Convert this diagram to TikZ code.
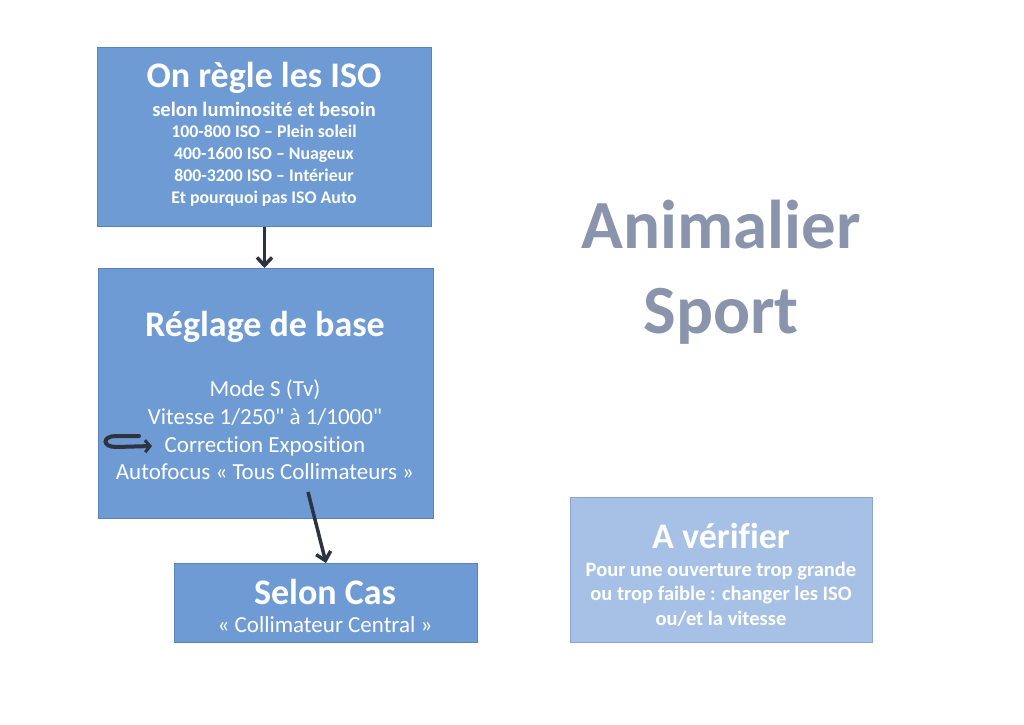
\documentclass[tikz,border=0pt]{standalone}
\usepackage{fontspec}
\setmainfont{Carlito}[Ligatures={TeXOff,NoCommon}]
\usetikzlibrary{arrows.meta}
\definecolor{boxblue}{HTML}{6F9BD4}
\definecolor{boxedge}{HTML}{5A82BC}
\definecolor{lightblue}{HTML}{A6C1E5}
\definecolor{lightedge}{HTML}{8BA6CC}
\definecolor{arrowcol}{HTML}{2E3340}
\definecolor{titlegray}{HTML}{8A95AD}
\tikzset{
  bluebox/.style={draw=boxedge, line width=1pt, fill=boxblue, inner sep=0pt, anchor=north west},
  lightbox/.style={draw=lightedge, line width=1pt, fill=lightblue, inner sep=0pt, anchor=north west},
  bigtitle/.style={text=white, font=\fontsize{36}{40}\selectfont\bfseries, inner sep=0pt},
  subbold/.style={text=white, font=\fontsize{20.5}{24.5}\selectfont\bfseries, inner sep=0pt, align=center},
  listbold/.style={text=white, font=\fontsize{17.8}{22}\selectfont\bfseries, inner sep=0pt, align=center},
  regular/.style={text=white, font=\fontsize{23}{27.7}\selectfont, inner sep=0pt, align=center},
  conn/.style={draw=arrowcol, line width=3.5pt, -{Straight Barb[length=8pt,width=15pt,line width=3.5pt]}},
}
\begin{document}
\begin{tikzpicture}[x=1pt,y=-1pt]
\useasboundingbox (0,0) rectangle (1024,724);
\fill[white] (0,0) rectangle (1024,724);
% boxes
\node[bluebox, minimum width=334pt, minimum height=179pt] (b1) at (97,47) {};
\node[bluebox, minimum width=335pt, minimum height=250pt] (b2) at (98,268) {};
\node[bluebox, minimum width=303pt, minimum height=79pt] (b3) at (174,563) {};
\node[lightbox, minimum width=302pt, minimum height=145pt] (b4) at (570,497) {};
% box 1 text
\node[bigtitle] (t1) at (264,78) {On règle les ISO};
\node[subbold] (t1a) at (264,109) {selon luminosité et besoin};
\node[listbold] (t1b) at (264,166) {100-800 ISO – Plein soleil\\400-1600 ISO – Nuageux\\800-3200 ISO – Intérieur\\Et pourquoi pas ISO Auto};
% box 2 text
\node[bigtitle] (t2) at (265,327) {Réglage de base};
\node[regular] (t2a) at (265,430) {Mode S (Tv)\\Vitesse 1/250" à 1/1000"\\Correction Exposition\\Autofocus « Tous Collimateurs »};
% box 3 text
\node[bigtitle] (t3) at (325,592) {Selon Cas};
\node[regular] (t3a) at (325,625) {« Collimateur Central »};
% box 4 text
\node[bigtitle] (t4) at (721,536) {A vérifier};
\node[subbold] (t4a) at (721,594) {Pour une ouverture trop grande\\ou trop faible : changer les ISO\\ou/et la vitesse};
% big title
\node[text=titlegray, font=\fontsize{69}{85}\selectfont\bfseries, inner sep=0pt, align=center] (big) at (721,272) {Animalier\\Sport};
% connectors
\draw[conn] (b1.south) -- (b1.south |- b2.north);
\coordinate (s2) at (308,492);
\draw[conn] (s2) -- (b3.north);
\coordinate (c0) at (139,436);
\coordinate (c1) at (152,446);
\draw[draw=arrowcol, line width=4pt, line cap=round, -{Straight Barb[length=5pt,width=12pt,line width=3pt]}] (c0) -- (116,436) .. controls (102,436) and (102,447) .. (116,447) -- (c1);
\end{tikzpicture}
\end{document}
